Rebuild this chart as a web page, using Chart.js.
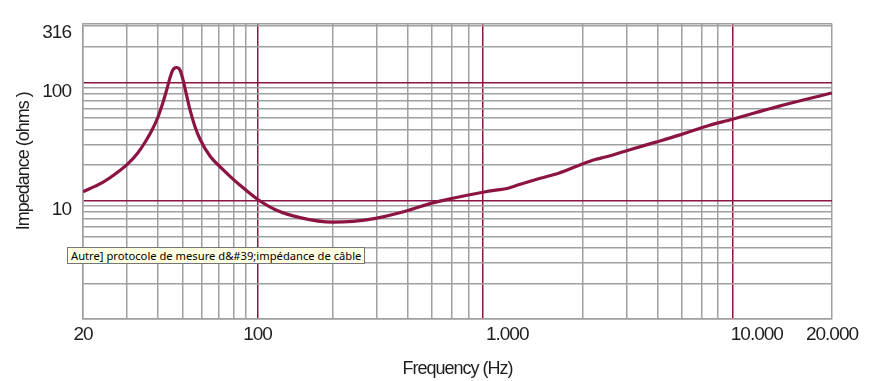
<!DOCTYPE html>
<html lang="fr">
<head>
    <meta charset="UTF-8">
    <title>Impedance</title>
    <style>
        body {
            margin: 0;
            background-color: #fff;
        }

        .wrap {
            position: relative;
            width: 883px;
            height: 381px;
        }

        .tip {
            position: absolute;
            left: 67px;
            top: 247px;
            height: 15px;
            padding: 0 3px;
            background-color: #ffffe1;
            border: 1px solid #767676;
            font-family: 'Noto Sans', sans-serif;
            font-size: 11.2px;
            line-height: 15px;
            color: #000;
            white-space: nowrap;
        }
    </style>
</head>
<body>
    <div class="wrap">
        <canvas id="chart" width="883" height="381"></canvas>
        <div class="tip">Autre] protocole de mesure d&amp;#39;impédance de câble</div>
    </div>

    <script src="https://cdn.jsdelivr.net/npm/chart.js"></script>
    <script>
        // curve: frequency (Hz) -> impedance (ohms)
        const freqHz = [20, 24, 27.1, 30.3, 33.2, 35.7, 37.8, 39.9, 41.8, 43.4, 44.6, 45.8, 47.3, 48.9, 50.2,
            51.6, 53.6, 56.1, 58.8, 64.4, 72.6, 79.6, 84.9, 100, 118, 148, 200, 241, 297, 394, 503, 606,
            800, 900, 1000, 1120, 1346, 1618, 1946, 2270, 2450, 2650, 3100, 3940, 4890, 6240, 7980, 12300, 20000];
        const impedance = [11.9, 14.3, 17.0, 20.6, 25.5, 32.0, 39.6, 50.8, 67.7, 88.6, 109.4, 127.6, 133.9, 127.6, 107.4,
            83.6, 59.2, 42.7, 33.3, 24.0, 18.4, 15.3, 13.6, 10.3, 8.4, 7.2, 6.6, 6.7, 7.1, 8.2, 9.6, 10.5,
            11.8, 12.3, 12.7, 13.7, 15.4, 17.2, 20.0, 22.4, 23.3, 24.4, 27.0, 31.3, 35.9, 42.5, 48.9, 63.1, 81.6];

        // grid positions as drawn on the original sheet
        const xGrid = [20, 30, 40, 50, 60, 70, 80, 90, 100, 200, 300, 400, 500, 600, 700, 800, 1000,
            2000, 3000, 4000, 5000, 6000, 7000, 8000, 10000, 20000];
        const xRed = [100, 800, 8000];
        const xHidden = [1000, 10000];
        const xLabels = { 20: '20', 100: '100', 1000: '1.000', 10000: '10.000', 20000: '20.000' };

        const yGrid = [1, 2, 3, 4, 5, 6, 7, 8, 9, 10, 20, 30, 40, 50, 60, 70, 80, 90, 100, 200, 300, 316];
        const yRed = [10, 100];
        const yLabels = { 10: '10', 100: '100', 316: '316' };

        const gray = '#a0a0a0';
        const red = '#8c1444';
        const font = "'Liberation Sans', Arial, sans-serif";

        // the lettering on the sheet is condensed
        const tightText = {
            id: 'tightText',
            beforeUpdate: c => { c.ctx.letterSpacing = '-1px'; },
            beforeDraw: c => { c.ctx.letterSpacing = '-1px'; }
        };

        const ctx = document.getElementById('chart').getContext('2d');

        new Chart(ctx, {
            type: 'line',
            data: {
                datasets: [{
                    data: freqHz.map((f, i) => ({ x: f, y: impedance[i] })),
                    borderColor: red,
                    borderWidth: 3.2,
                    pointRadius: 0,
                    cubicInterpolationMode: 'monotone',
                    fill: false
                }]
            },
            plugins: [tightText],
            options: {
                responsive: false,
                animation: false,
                layout: { padding: { top: 20, right: 51, left: 0, bottom: 0 } },
                plugins: { legend: { display: false }, tooltip: { enabled: false } },
                scales: {
                    x: {
                        type: 'logarithmic',
                        min: 20,
                        max: 20000,
                        afterBuildTicks: s => { s.ticks = xGrid.map(v => ({ value: v })); },
                        afterFit: s => { s.height = 62; },
                        border: { color: gray, width: 1.5 },
                        grid: {
                            drawTicks: false,
                            lineWidth: 1.5,
                            color: c => xHidden.includes(c.tick.value) ? 'rgba(0,0,0,0)'
                                : (xRed.includes(c.tick.value) ? red : gray)
                        },
                        ticks: {
                            autoSkip: false,
                            maxRotation: 0,
                            padding: 4,
                            color: '#1e1e1e',
                            font: { family: font, size: 19 },
                            callback: v => xLabels[v] || ''
                        },
                        title: {
                            display: true,
                            text: 'Frequency (Hz)',
                            color: '#1e1e1e',
                            font: { family: font, size: 18 },
                            padding: { top: 0, bottom: 1 }
                        }
                    },
                    y: {
                        type: 'logarithmic',
                        min: 1,
                        max: 316,
                        afterBuildTicks: s => { s.ticks = yGrid.map(v => ({ value: v })); },
                        afterFit: s => { s.width = 83; },
                        border: { color: gray, width: 1.5 },
                        grid: {
                            drawTicks: false,
                            lineWidth: 1.5,
                            color: c => yRed.includes(c.tick.value) ? red : gray
                        },
                        ticks: {
                            autoSkip: false,
                            padding: 12,
                            labelOffset: 9,
                            color: '#1e1e1e',
                            font: { family: font, size: 19 },
                            callback: v => yLabels[v] || ''
                        },
                        title: {
                            display: true,
                            // leading spaces lift the title a little, as on the sheet
                            text: '     Impedance (ohms )',
                            color: '#1e1e1e',
                            font: { family: font, size: 18 },
                            padding: { top: 13, bottom: 0 }
                        }
                    }
                }
            }
        });
    </script>
</body>
</html>
